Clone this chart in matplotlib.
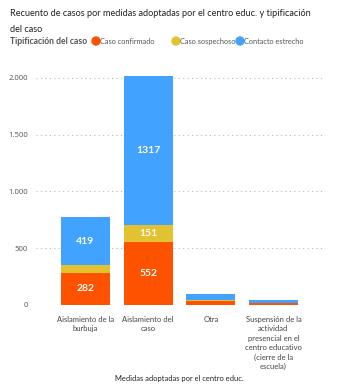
import matplotlib
matplotlib.use("Agg")
import matplotlib.pyplot as plt
import numpy as np

# datos
medidas = ["Aislamiento de la\nburbuja", "Aislamiento del\ncaso", "Otra",
           "Suspensión de la\nactividad\npresencial en el\ncentro educativo\n(cierre de la\nescuela)"]
confirmado = [282, 552, 38, 14]
sospechoso = [72, 151, 7, 4]
contacto = [419, 1317, 55, 24]
serie_nombres = ["Caso confirmado", "Caso sospechoso", "Contacto estrecho"]
colores = ["#FF5200", "#E3C232", "#41A3FF"]
yticks = [0, 500, 1000, 1500, 2000]
ytick_labels = ["0", "500", "1.000", "1.500", "2.000"]
titulo = ["Recuento de casos por medidas adoptadas por el centro educ. y tipificación", "del caso"]

plt.rcParams['font.family'] = ['Lato', 'DejaVu Sans']

fig = plt.figure(figsize=(3.61, 3.92), dpi=100)
ax = fig.add_axes([0.0997, 0.222, 0.795, 0.608])

x = np.arange(len(medidas))
ancho = 0.78
series = [confirmado, sospechoso, contacto]
base = np.zeros(len(medidas))
for vals, nombre, col in zip(series, serie_nombres, colores):
    ax.bar(x, vals, ancho, bottom=base, color=col, label=nombre)
    for xi, v, b in zip(x, vals, base):
        if v > 100:
            ax.text(xi, b + v / 2, f"{v}", ha='center', va='center',
                    color='white', fontsize=7.5, fontweight='bold')
    base = base + np.array(vals)

ax.set_xlim(-0.79, 3.79)
ax.set_ylim(0, 2100)
ax.set_yticks(yticks)
ax.set_yticklabels(ytick_labels, family=['Open Sans', 'DejaVu Sans'])
ax.set_xticks(x)
ax.set_xticklabels(medidas, fontsize=5.5, color='#444444', linespacing=1.4)
ax.tick_params(axis='y', length=0, labelsize=5.6, labelcolor='#555555', pad=6)
ax.tick_params(axis='x', length=0, pad=8)
ax.grid(axis='y', color='#BBBBBB', linestyle=(0, (1, 3)), linewidth=0.8)
ax.set_axisbelow(True)
for s in ax.spines.values():
    s.set_visible(False)

ax.set_xlabel("Medidas adoptadas por el centro educ.", fontsize=5.4, color='#222222', labelpad=3)

# titulo
for i, linea in enumerate(titulo):
    fig.text(10 / 361, 1 - (12 + 17 * i) / 392, linea,
             fontsize=6.6, color='#222222', va='center_baseline', ha='left')

# leyenda
ly = 1 - 41 / 392
fig.text(10 / 361, ly, "Tipificación del caso", fontsize=6.2, fontweight='bold',
         color='#555555', va='center_baseline')
pos = [96, 176, 240]
for px, nombre, col in zip(pos, serie_nombres, colores):
    fig.patches.append(matplotlib.patches.Ellipse((px / 361, ly), 8 / 361, 8 / 392,
                                                  transform=fig.transFigure, color=col))
    fig.text((px + 4.5) / 361, ly, nombre, fontsize=5.3, color='#555555', va='center_baseline')

fig.savefig("out.png", dpi=100)
